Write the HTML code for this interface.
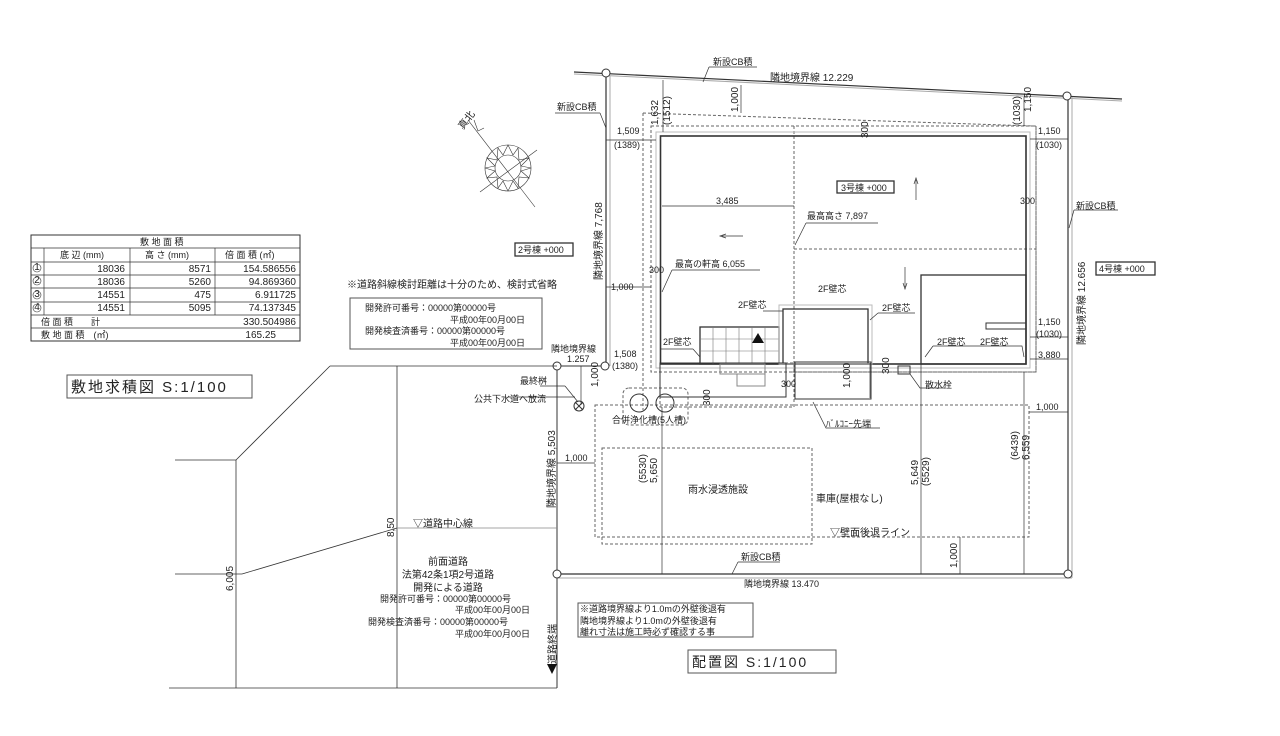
<!DOCTYPE html>
<html><head><meta charset="utf-8"><style>
html,body{margin:0;padding:0;background:#fff}
svg{display:block}
text{font-family:"Liberation Sans","Noto Sans CJK JP",sans-serif;font-size:10px;fill:#222}
.s{font-size:9px}
</style></head><body>
<svg width="1280" height="736" viewBox="0 0 1280 736" xmlns="http://www.w3.org/2000/svg">
<g stroke="#333" fill="none" stroke-width="1">
<!-- site boundaries -->
<line x1="574" y1="72" x2="1122" y2="99" stroke-width="1.2"/>
<line x1="574" y1="74" x2="1122" y2="101" stroke="#aaa"/>
<line x1="606" y1="73" x2="606" y2="366" stroke-width="1.2"/>
<line x1="610" y1="76" x2="610" y2="366" stroke="#aaa"/>
<line x1="1068" y1="96" x2="1068" y2="574" stroke-width="1.2"/>
<line x1="1072" y1="97" x2="1072" y2="578" stroke="#aaa"/>
<line x1="557" y1="366" x2="606" y2="366"/>
<line x1="557" y1="366" x2="557" y2="688"/>
<line x1="557" y1="574" x2="1068" y2="574" stroke-width="1.2"/>
<line x1="557" y1="578" x2="1072" y2="578" stroke="#aaa"/>
<circle cx="606" cy="73" r="4" fill="#fff"/><circle cx="1067" cy="96" r="4" fill="#fff"/>
<circle cx="605" cy="366" r="4" fill="#fff"/><circle cx="557" cy="366" r="4" fill="#fff"/>
<circle cx="557" cy="574" r="4" fill="#fff"/><circle cx="1068" cy="574" r="4" fill="#fff"/>
<!-- setback dashed -->
<g stroke-dasharray="3,2" stroke="#666">
<path d="M643 113 L1033 126 L1036 126 L1036 372 L790 372"/>
<line x1="643" y1="113" x2="643" y2="410"/>
<rect x="651" y="126" width="385" height="246"/>
<path d="M595 405 L1029 405 L1029 537 L595 537 Z"/>
<rect x="602" y="448" width="210" height="96"/>
<line x1="794" y1="126" x2="794" y2="372"/>
<line x1="794" y1="249" x2="1036" y2="249"/>
<rect x="623" y="388" width="65" height="37" rx="6"/>
<rect x="660" y="363" width="134" height="44"/>
</g>
<!-- building walls -->
<rect x="660.5" y="136" width="365.5" height="228" stroke-width="1.6"/>
<rect x="656" y="132" width="374" height="236" stroke="#bbb"/>
<rect x="700" y="327" width="79" height="37" stroke-width="1.3"/>
<g stroke="#777" stroke-width=".6">
<line x1="713" y1="327" x2="713" y2="364"/><line x1="726" y1="327" x2="726" y2="364"/><line x1="739" y1="327" x2="739" y2="364"/><line x1="752" y1="327" x2="752" y2="364"/><line x1="765" y1="327" x2="765" y2="364"/>
<line x1="700" y1="339" x2="779" y2="339"/><line x1="700" y1="351" x2="779" y2="351"/>
</g>
<rect x="720" y="364" width="45" height="10" stroke="#888"/><rect x="737" y="374" width="28" height="12" stroke="#888"/>
<rect x="783" y="309" width="85" height="55" stroke-width="1.3"/>
<rect x="779" y="305" width="93" height="59" stroke="#bbb"/>
<rect x="921" y="275" width="105" height="89" stroke-width="1.3"/>
<rect x="986" y="323" width="40" height="6"/>
<rect x="660" y="363" width="126" height="34"/>
<rect x="795" y="362" width="76" height="37"/>
<rect x="898" y="366" width="12" height="8"/>
<circle cx="639" cy="403" r="9"/><circle cx="665" cy="403" r="9"/>
<circle cx="579" cy="406" r="5"/><line x1="575" y1="402" x2="583" y2="410"/><line x1="583" y1="402" x2="575" y2="410"/>
<!-- dims -->
<line x1="662" y1="206" x2="794" y2="206" stroke-width=".7"/>
<line x1="662" y1="407" x2="662" y2="574" stroke-width=".7"/>
<line x1="921" y1="364" x2="921" y2="574" stroke-width=".7"/>
<line x1="1024" y1="372" x2="1024" y2="574" stroke-width=".7"/>
<line x1="606" y1="287" x2="651" y2="287" stroke-width=".7"/>
<line x1="557" y1="463" x2="595" y2="463" stroke-width=".7"/>
<line x1="1029" y1="412" x2="1068" y2="412" stroke-width=".7"/>
<line x1="606" y1="140" x2="656" y2="140" stroke-width=".7"/>
<line x1="1030" y1="139" x2="1068" y2="139" stroke-width=".7"/>
<line x1="1030" y1="337" x2="1068" y2="337" stroke-width=".7"/>
<line x1="1030" y1="359" x2="1068" y2="359" stroke-width=".7"/>
<line x1="663" y1="80" x2="663" y2="132" stroke-width=".7"/>
<line x1="741" y1="85" x2="741" y2="113" stroke-width=".7"/>
<line x1="1024" y1="97" x2="1024" y2="126" stroke-width=".7"/>
<line x1="581" y1="366" x2="581" y2="405" stroke-width=".7"/>
<line x1="960" y1="537" x2="960" y2="574" stroke-width=".7"/>
<line x1="870" y1="363" x2="870" y2="398" stroke-width=".7"/>
<!-- arrows -->
<line x1="916" y1="180" x2="916" y2="200" stroke-width=".7"/><path d="M914 184 L916 178 L918 184" stroke-width=".7"/>
<line x1="722" y1="236" x2="743" y2="236" stroke-width=".7"/><path d="M726 234 L720 236 L726 238" stroke-width=".7"/>
<line x1="905" y1="267" x2="905" y2="287" stroke-width=".7"/><path d="M903 283 L905 289 L907 283" stroke-width=".7"/>
<line x1="508" y1="397" x2="575" y2="397" stroke-width=".7"/>
<!-- leaders -->
<g stroke-width=".7">
<path d="M709 67 L703 82 M709 67 L757 67"/>
<path d="M600 113 L606 128 M555 113 L600 113"/>
<path d="M1074 210 L1069 228 M1074 210 L1118 210"/>
<path d="M672 270 L662 292 M672 270 L760 270"/>
<path d="M806 223 L795 245 M806 223 L878 223"/>
<path d="M763 311 L783 311 L783 320"/>
<path d="M693 349 L700 357 M660 349 L693 349"/>
<path d="M878 313 L870 320 M878 313 L915 313"/>
<path d="M933 346 L925 357 M933 346 L1022 346 L1024 357"/>
<path d="M910 374 L920 388 L945 388"/>
<path d="M813 402 L826 428 L880 428"/>
<path d="M565 386 L578 402 M540 386 L565 386"/>
<path d="M738 562 L732 574 M738 562 L780 562"/>
</g>
<!-- road -->
<g stroke-width=".8">
<path d="M330 366 L557 366"/>
<path d="M330 366 L236 460 L175 460"/>
<line x1="236" y1="460" x2="236" y2="688"/>
<line x1="397" y1="366" x2="397" y2="688"/>
<line x1="169" y1="688" x2="557" y2="688"/>
<line x1="175" y1="574" x2="242" y2="574"/>
<line x1="242" y1="574" x2="397" y2="528"/>
<line x1="397" y1="528" x2="557" y2="528" stroke="#888"/>
</g>
<!-- table -->
<rect x="31" y="235" width="269" height="106"/>
<g stroke-width=".7">
<line x1="31" y1="248" x2="300" y2="248"/><line x1="31" y1="262" x2="300" y2="262"/>
<line x1="31" y1="275" x2="300" y2="275"/><line x1="31" y1="288" x2="300" y2="288"/>
<line x1="31" y1="302" x2="300" y2="302"/><line x1="31" y1="315" x2="300" y2="315"/>
<line x1="31" y1="328" x2="300" y2="328"/>
<line x1="44" y1="248" x2="44" y2="315"/><line x1="130" y1="248" x2="130" y2="315"/><line x1="215" y1="248" x2="215" y2="315"/>
</g>
<g stroke-width=".6"><circle cx="37" cy="268" r="4"/><circle cx="37" cy="281" r="4"/><circle cx="37" cy="295" r="4"/><circle cx="37" cy="308" r="4"/></g>
<!-- boxes -->
<rect x="67" y="375" width="185" height="23" stroke="#555"/>
<rect x="350" y="298" width="192" height="51" stroke="#555"/>
<rect x="515" y="243" width="58" height="13" stroke-width="1.3"/>
<rect x="837" y="181" width="57" height="12" stroke-width="1.3"/>
<rect x="1096" y="262" width="59" height="13" stroke-width="1.3"/>
<rect x="578" y="603" width="175" height="34" stroke="#555"/>
<rect x="688" y="650" width="148" height="23" stroke="#555"/>
<!-- compass -->
<g stroke-width=".6">
<circle cx="508" cy="168" r="23"/><circle cx="508" cy="168" r="13"/>
<line x1="468" y1="120" x2="535" y2="207"/><line x1="480" y1="192" x2="537" y2="150"/>
<path d="M474 120 L478 131 L484 128"/>
<path d="M508 145 L513 155 L518 148 L519 160 L529 158 L521 166 L531 168 L521 171 L529 178 L519 177 L518 188 L513 181 L508 191 L503 181 L498 188 L497 177 L487 178 L495 171 L485 168 L495 166 L487 158 L497 160 L498 148 L503 155 Z"/>
</g>
</g>
<path d="M752 343 L758 333 L764 343 Z" fill="#111"/>
<path d="M547 666 L552 676 L557 666 Z" fill="#111" transform="translate(0,-2)"/>
<!-- labels -->
<text x="713" y="65" class="s">新設CB積</text>
<text x="770" y="81">隣地境界線 12.229</text>
<text x="557" y="110" class="s">新設CB積</text>
<text x="1076" y="209" class="s">新設CB積</text>
<text x="617" y="134" class="s">1,509</text><text x="614" y="148" class="s">(1389)</text>
<text x="1038" y="134" class="s">1,150</text><text x="1036" y="148" class="s">(1030)</text>
<text x="1038" y="325" class="s">1,150</text><text x="1036" y="337" class="s">(1030)</text>
<text x="1038" y="358" class="s">3,880</text>
<text x="1036" y="410" class="s">1,000</text>
<text x="611" y="290" class="s">1,000</text>
<text x="565" y="461" class="s">1,000</text>
<text x="614" y="357" class="s">1,508</text><text x="612" y="369" class="s">(1380)</text>
<text x="551" y="352" class="s">隣地境界線</text><text x="567" y="362" class="s">1.257</text>
<text x="716" y="204" class="s">3,485</text>
<text x="807" y="219" class="s">最高高さ 7,897</text>
<text x="675" y="267" class="s">最高の軒高 6,055</text>
<text x="841" y="191" class="s">3号棟 +000</text>
<text x="518" y="253" class="s">2号棟 +000</text>
<text x="1099" y="272" class="s">4号棟 +000</text>
<text x="738" y="308" class="s">2F壁芯</text>
<text x="818" y="292" class="s">2F壁芯</text>
<text x="882" y="311" class="s">2F壁芯</text>
<text x="663" y="345" class="s">2F壁芯</text>
<text x="937" y="345" class="s">2F壁芯</text><text x="980" y="345" class="s">2F壁芯</text>
<text x="649" y="273" class="s">300</text><text x="1020" y="204" class="s">300</text>
<text x="781" y="387" class="s">300</text>
<text x="925" y="388" class="s">散水栓</text>
<text x="520" y="384" class="s">最終桝</text>
<text x="474" y="402" class="s">公共下水道へ放流</text>
<text x="612" y="423" class="s">合併浄化槽(5人槽)</text>
<text x="826" y="427" class="s">ﾊﾞﾙｺﾆｰ先端</text>
<text x="688" y="493">雨水浸透施設</text>
<text x="816" y="502">車庫(屋根なし)</text>
<text x="830" y="536">▽壁面後退ライン</text>
<text x="741" y="560" class="s">新設CB積</text>
<text x="744" y="587" class="s">隣地境界線 13.470</text>
<text x="413" y="527">▽道路中心線</text>
<text x="347" y="288">※道路斜線検討距離は十分のため、検討式省略</text>
<text x="365" y="311" class="s">開発許可番号：00000第00000号</text>
<text x="450" y="323" class="s">平成00年00月00日</text>
<text x="365" y="334" class="s">開発検査済番号：00000第00000号</text>
<text x="450" y="346" class="s">平成00年00月00日</text>
<g class="s" text-anchor="middle">
<text x="448" y="565">前面道路</text><text x="448" y="578">法第42条1項2号道路</text><text x="448" y="591">開発による道路</text>
</g>
<text x="380" y="602" class="s">開発許可番号：00000第00000号</text>
<text x="455" y="613" class="s">平成00年00月00日</text>
<text x="368" y="625" class="s">開発検査済番号：00000第00000号</text>
<text x="455" y="637" class="s">平成00年00月00日</text>
<text x="580" y="612" class="s">※道路境界線より1.0mの外壁後退有</text>
<text x="580" y="624" class="s">隣地境界線より1.0mの外壁後退有</text>
<text x="580" y="635" class="s">離れ寸法は施工時必ず確認する事</text>
<text x="692" y="667" style="font-size:14px;letter-spacing:2px">配置図 S:1/100</text>
<text x="71" y="392" style="font-size:15px;letter-spacing:2px">敷地求積図 S:1/100</text>
<!-- table text -->
<text x="140" y="245" class="s">敷 地 面 積</text>
<text x="60" y="258" class="s">底 辺 (mm)</text><text x="145" y="258" class="s">高 さ (mm)</text><text x="225" y="258" class="s">倍 面 積 (㎡)</text>
<g class="s" text-anchor="end">
<text x="125" y="272">18036</text><text x="211" y="272">8571</text><text x="296" y="272">154.586556</text>
<text x="125" y="285">18036</text><text x="211" y="285">5260</text><text x="296" y="285">94.869360</text>
<text x="125" y="298">14551</text><text x="211" y="298">475</text><text x="296" y="298">6.911725</text>
<text x="125" y="311">14551</text><text x="211" y="311">5095</text><text x="296" y="311">74.137345</text>
<text x="296" y="325">330.504986</text><text x="276" y="338">165.25</text>
</g>
<text x="41" y="325" class="s">倍 面 積　　計</text><text x="41" y="338" class="s">敷 地 面 積　(㎡)</text>
<g style="font-size:6px" text-anchor="middle"><text x="37" y="270">1</text><text x="37" y="283">2</text><text x="37" y="297">3</text><text x="37" y="310">4</text></g>
<!-- vertical text -->
<g class="s">
<text transform="translate(602,280) rotate(-90)">隣地境界線 7,768</text>
<text transform="translate(1085,345) rotate(-90)">隣地境界線 12.656</text>
<text transform="translate(555,508) rotate(-90)">隣地境界線 5,503</text>
<text transform="translate(658,125) rotate(-90)">1,632</text>
<text transform="translate(670,125) rotate(-90)">(1512)</text>
<text transform="translate(738,112) rotate(-90)">1,000</text>
<text transform="translate(1020,125) rotate(-90)">(1030)</text>
<text transform="translate(1031,112) rotate(-90)">1,150</text>
<text transform="translate(598,387) rotate(-90)">1,000</text>
<text transform="translate(868,138) rotate(-90)">300</text>
<text transform="translate(889,374) rotate(-90)">300</text>
<text transform="translate(710,406) rotate(-90)">300</text>
<text transform="translate(850,388) rotate(-90)">1,000</text>
<text transform="translate(646,483) rotate(-90)">(5530)</text>
<text transform="translate(657,483) rotate(-90)">5,650</text>
<text transform="translate(918,485) rotate(-90)">5,649</text>
<text transform="translate(929,486) rotate(-90)">(5529)</text>
<text transform="translate(1018,460) rotate(-90)">(6439)</text>
<text transform="translate(1029,460) rotate(-90)">6,559</text>
<text transform="translate(957,568) rotate(-90)">1,000</text>
<text transform="translate(233,591) rotate(-90)">6,005</text>
<text transform="translate(394,537) rotate(-90)">8,50</text>
<text transform="translate(556,664) rotate(-90)">道路終端</text>
<text transform="translate(463,130) rotate(-52)">真北</text>
</g>
</svg>
</body></html>
